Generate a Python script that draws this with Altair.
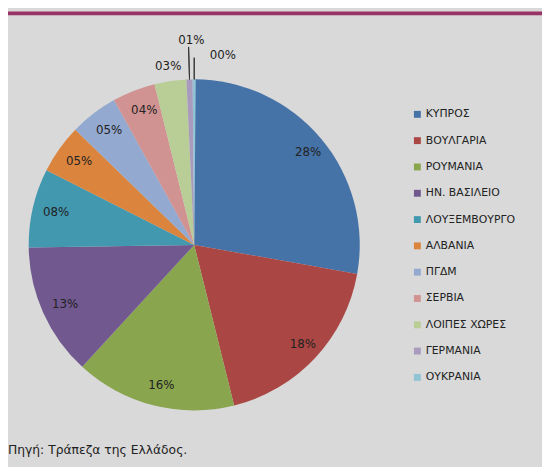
import altair as alt
import pandas as pd

categories = ["ΚΥΠΡΟΣ", "ΒΟΥΛΓΑΡΙΑ", "ΡΟΥΜΑΝΙΑ", "ΗΝ. ΒΑΣΙΛΕΙΟ", "ΛΟΥΞΕΜΒΟΥΡΓΟ",
              "ΑΛΒΑΝΙΑ", "ΠΓΔΜ", "ΣΕΡΒΙΑ", "ΛΟΙΠΕΣ ΧΩΡΕΣ", "ΓΕΡΜΑΝΙΑ", "ΟΥΚΡΑΝΙΑ"]
values = [27.8, 18.3, 15.7, 12.9, 7.7, 4.8, 4.7, 4.2, 3.1, 0.6, 0.3]
labels = ["28%", "18%", "16%", "13%", "08%", "05%", "05%", "04%", "03%", "01%", "00%"]
colors = ["#4572A7", "#AA4643", "#89A54E", "#71588F", "#4198AF", "#DB843D",
          "#93A9CF", "#D19392", "#B9CD96", "#A99BBD", "#92C3D4"]
source_text = "Πηγή: Τράπεζα της Ελλάδος."

df = pd.DataFrame({
    "idx": list(range(len(categories))),
    "cat": categories,
    "value": values,
    "label": labels,
})

CX, CY = 189, 237
R = 168
FONT = "DejaVu Sans"
TXT = "#222222"

base = alt.Chart(df).transform_window(
    cum="sum(value)", sort=[{"field": "idx"}]
).transform_calculate(
    start="datum.cum - datum.value",
    mid="datum.cum - datum.value / 2",
)

pie = base.mark_arc(outerRadius=R).encode(
    theta=alt.Theta("start:Q", stack=False),
    theta2="cum:Q",
    color=alt.Color("cat:N", sort=categories,
                    scale=alt.Scale(domain=categories, range=colors),
                    legend=alt.Legend(title=None)),
    x=alt.value(CX), y=alt.value(CY),
)

inner_text = base.transform_filter("datum.value >= 3.5").mark_text(
    radius=147, font=FONT, fontSize=12, color=TXT, dx=3
).encode(
    theta=alt.Theta("mid:Q", stack=False),
    text="label:N",
    x=alt.value(CX), y=alt.value(CY),
)

others_text = base.transform_filter("datum.value >= 1 && datum.value < 3.5").mark_text(
    radius=183, font=FONT, fontSize=12, color=TXT
).encode(
    theta=alt.Theta("mid:Q", stack=False),
    text="label:N",
    x=alt.value(CX), y=alt.value(CY),
)

germany_text = base.transform_filter("datum.value >= 0.5 && datum.value < 1").mark_text(
    radius=208, font=FONT, fontSize=12, color=TXT, dx=3
).encode(
    theta=alt.Theta("mid:Q", stack=False),
    text="label:N",
    x=alt.value(CX), y=alt.value(CY),
)

ukraine_text = base.transform_filter("datum.value < 0.5").mark_text(
    radius=195, font=FONT, fontSize=12, color=TXT, dx=29, dy=2
).encode(
    theta=alt.Theta("mid:Q", stack=False),
    text="label:N",
    x=alt.value(CX), y=alt.value(CY),
)

germany_leader = base.transform_filter("datum.value >= 0.5 && datum.value < 1").mark_arc(
    outerRadius=201, innerRadius=R, fill=None, stroke="#333333", strokeWidth=1
).encode(
    theta=alt.Theta("mid:Q", stack=False),
    theta2="mid:Q",
    x=alt.value(CX), y=alt.value(CY),
)

ukraine_leader = base.transform_filter("datum.value < 0.5").mark_arc(
    outerRadius=190, innerRadius=R, fill=None, stroke="#333333", strokeWidth=1
).encode(
    theta=alt.Theta("mid:Q", stack=False),
    theta2="mid:Q",
    x=alt.value(CX), y=alt.value(CY),
)

band = alt.Chart(pd.DataFrame({"k": [0]})).mark_rect(color="#993366").encode(
    x=alt.value(0), x2=alt.value(542), y=alt.value(0), y2=alt.value(4)
)

source = alt.Chart(pd.DataFrame({"t": [source_text]})).mark_text(
    align="left", baseline="alphabetic", font=FONT, fontSize=12.5, color=TXT
).encode(
    text="t:N", x=alt.value(0), y=alt.value(449)
)

chart = alt.layer(
    band, pie, germany_leader, ukraine_leader, inner_text, others_text,
    germany_text, ukraine_text, source
).properties(
    width=542, height=459,
    autosize=alt.AutoSizeParams(type="none"),
    padding=0,
    background="#d9d9d9",
).configure_view(
    stroke=None
).configure_legend(
    orient="none", legendX=410, legendY=99, padding=0,
    symbolType="square", symbolSize=49, symbolStrokeWidth=0,
    labelFont=FONT, labelFontSize=11, labelColor=TXT, labelOffset=3,
    rowPadding=14.7,
)

chart.save("out.html", embed_options={"renderer": "svg", "actions": False})
